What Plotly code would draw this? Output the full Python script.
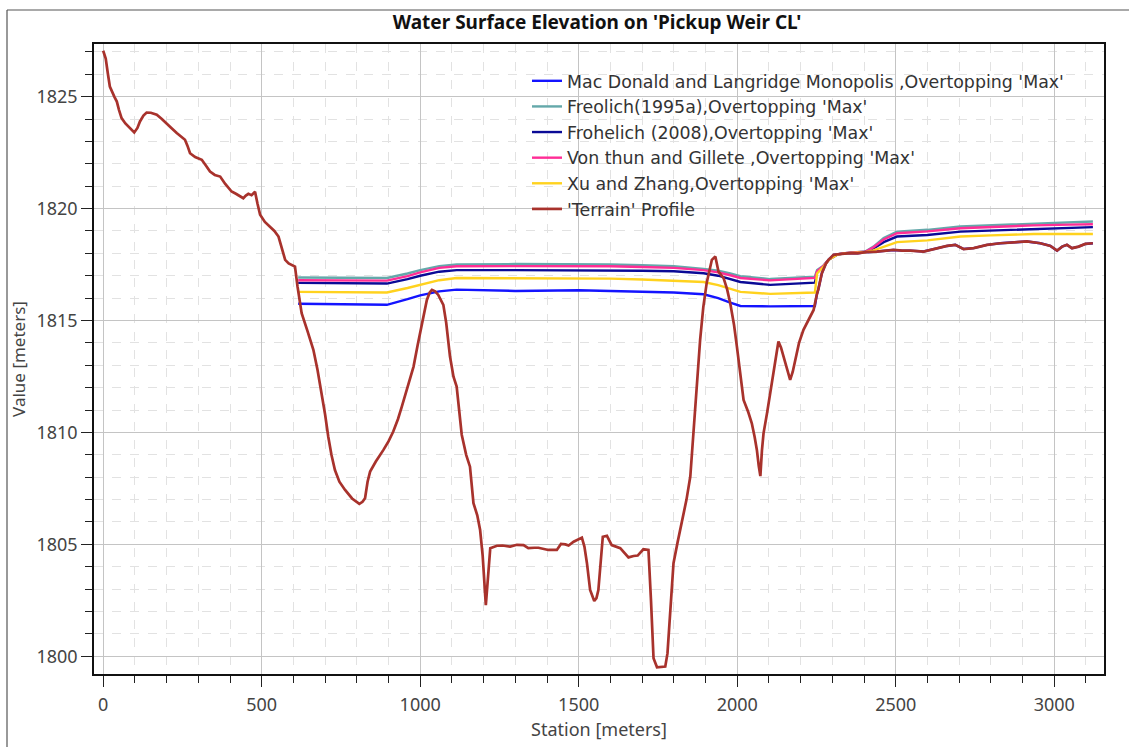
import plotly.graph_objects as go

# Terrain profile along the weir centreline
terrain_station = [
    0, 8, 15, 21, 35, 43, 50, 58, 70, 79, 90, 98, 108, 116, 127, 137, 150, 169, 185, 200,
    215, 232, 245, 258, 266, 274, 290, 311, 325, 337, 352, 369, 385, 405, 420, 442, 450, 458,
    468, 479, 487, 495, 510, 526, 540, 553, 563, 574, 585, 595, 605, 613, 626, 645, 663, 676,
    689, 700, 710, 720, 731, 745, 763, 785, 808, 818, 826, 834, 842, 860, 884, 900, 915, 930,
    942, 960, 979, 992, 1005, 1013, 1021, 1030, 1037, 1047, 1057, 1073, 1082, 1094, 1105, 1115,
    1125, 1131, 1145, 1157, 1168, 1180, 1189, 1197, 1207, 1214, 1221, 1242, 1260, 1284, 1305,
    1326, 1341, 1360, 1373, 1404, 1431, 1444, 1458, 1468, 1484, 1510, 1518, 1526, 1536, 1549,
    1556, 1562, 1570, 1576, 1589, 1604, 1631, 1645, 1657, 1673, 1686, 1704, 1720, 1728, 1736,
    1747, 1773, 1780, 1789, 1799, 1812, 1825, 1840, 1852, 1862, 1873, 1883, 1893, 1904, 1912,
    1920, 1931, 1941, 1957, 1968, 1978, 1990, 1999, 2010, 2020, 2035, 2046, 2055, 2062, 2068,
    2073, 2078, 2083, 2094, 2105, 2115, 2123, 2130, 2138, 2146, 2157, 2167, 2175, 2183, 2195,
    2209, 2225, 2241, 2251, 2256, 2267, 2280, 2288, 2304, 2330, 2357, 2380, 2404, 2441, 2493,
    2520, 2546, 2588, 2620, 2662, 2688, 2714, 2746, 2788, 2830, 2872, 2914, 2956, 2988, 3009,
    3025, 3040, 3056, 3077, 3098, 3122,
]
terrain_elev = [
    1827.05, 1826.70, 1826.00, 1825.45, 1825.00, 1824.78, 1824.40, 1824.04, 1823.80, 1823.66,
    1823.50, 1823.40, 1823.60, 1823.89, 1824.15, 1824.29, 1824.28, 1824.19, 1824.00, 1823.82,
    1823.60, 1823.37, 1823.20, 1823.07, 1822.80, 1822.47, 1822.30, 1822.18, 1821.90, 1821.65,
    1821.50, 1821.43, 1821.10, 1820.76, 1820.65, 1820.46, 1820.58, 1820.66, 1820.60, 1820.75,
    1820.20, 1819.72, 1819.40, 1819.20, 1819.00, 1818.75, 1818.30, 1817.71, 1817.55, 1817.48,
    1817.41, 1816.52, 1815.33, 1814.50, 1813.69, 1812.80, 1811.75, 1810.80, 1809.81, 1809.00,
    1808.32, 1807.80, 1807.43, 1807.05, 1806.81, 1806.90, 1807.06, 1807.80, 1808.25, 1808.70,
    1809.22, 1809.60, 1810.04, 1810.60, 1811.15, 1812.00, 1812.94, 1813.90, 1814.88, 1815.45,
    1815.92, 1816.25, 1816.37, 1816.30, 1816.14, 1815.70, 1814.90, 1813.39, 1812.49, 1812.05,
    1810.80, 1809.90, 1809.00, 1808.47, 1806.84, 1806.30, 1805.64, 1804.50, 1802.29, 1803.50,
    1804.83, 1804.94, 1804.95, 1804.90, 1804.98, 1804.97, 1804.83, 1804.85, 1804.85, 1804.75,
    1804.75, 1805.02, 1805.00, 1804.95, 1805.12, 1805.30, 1804.90, 1804.16, 1802.96, 1802.47,
    1802.60, 1802.96, 1804.50, 1805.34, 1805.38, 1804.97, 1804.83, 1804.60, 1804.42, 1804.48,
    1804.50, 1804.78, 1804.75, 1802.50, 1799.91, 1799.51, 1799.54, 1800.13, 1801.92, 1804.16,
    1805.10, 1805.94, 1807.00, 1808.03, 1810.11, 1812.35, 1814.13, 1815.60, 1816.70, 1817.20,
    1817.71, 1817.86, 1817.18, 1816.89, 1816.40, 1815.77, 1814.80, 1813.83, 1812.60, 1811.45,
    1810.90, 1810.41, 1809.80, 1809.22, 1808.50, 1808.05, 1809.20, 1809.96, 1810.86, 1811.80,
    1812.65, 1813.40, 1814.06, 1813.80, 1813.39, 1812.80, 1812.35, 1812.70, 1813.24, 1814.00,
    1814.58, 1815.00, 1815.47, 1816.15, 1816.40, 1817.11, 1817.55, 1817.71, 1817.93, 1817.98,
    1818.01, 1818.00, 1818.05, 1818.08, 1818.15, 1818.12, 1818.12, 1818.08, 1818.20, 1818.33,
    1818.38, 1818.19, 1818.23, 1818.38, 1818.45, 1818.48, 1818.53, 1818.45, 1818.33, 1818.12,
    1818.30, 1818.38, 1818.23, 1818.30, 1818.42, 1818.45,
]

# Maximum water surface for each breach-parameter method
ws_station = [
    615, 895, 960, 1000, 1060, 1115, 1300, 1400, 1500, 1600, 1700, 1800, 1894, 1940, 1978,
    2010, 2104, 2245, 2252, 2272, 2290, 2315, 2346, 2404, 2430, 2462, 2504, 2600, 2704, 2800,
    2935, 3050, 3122,
]
ws_froelich_1995a = [
    1816.92, 1816.90, 1817.10, 1817.25, 1817.43, 1817.50, 1817.52, 1817.52, 1817.52, 1817.50,
    1817.47, 1817.42, 1817.30, 1817.22, 1817.10, 1816.98, 1816.85, 1816.96, 1817.26, 1817.45,
    1817.75, 1817.95, 1818.02, 1818.08, 1818.30, 1818.68, 1818.97, 1819.05, 1819.20, 1819.25,
    1819.35, 1819.40, 1819.42,
]
ws_froehlich_2008 = [
    1816.68, 1816.65, 1816.85, 1817.00, 1817.18, 1817.25, 1817.25, 1817.25, 1817.25, 1817.24,
    1817.22, 1817.20, 1817.11, 1817.00, 1816.85, 1816.72, 1816.59, 1816.69, 1817.15, 1817.42,
    1817.73, 1817.94, 1818.01, 1818.06, 1818.22, 1818.50, 1818.75, 1818.82, 1818.97, 1819.02,
    1819.08, 1819.14, 1819.17,
]
ws_von_thun = [
    1816.80, 1816.78, 1816.98, 1817.15, 1817.35, 1817.42, 1817.43, 1817.43, 1817.43, 1817.42,
    1817.39, 1817.35, 1817.25, 1817.15, 1817.02, 1816.90, 1816.79, 1816.90, 1817.20, 1817.44,
    1817.74, 1817.95, 1818.02, 1818.07, 1818.27, 1818.62, 1818.90, 1818.98, 1819.12, 1819.18,
    1819.25, 1819.28, 1819.30,
]
ws_xu_zhang = [
    1816.28, 1816.25, 1816.45, 1816.60, 1816.80, 1816.90, 1816.90, 1816.90, 1816.89, 1816.87,
    1816.83, 1816.78, 1816.72, 1816.58, 1816.40, 1816.28, 1816.19, 1816.25, 1817.10, 1817.40,
    1817.72, 1817.94, 1818.01, 1818.05, 1818.13, 1818.30, 1818.50, 1818.58, 1818.75, 1818.80,
    1818.86, 1818.86, 1818.86,
]

# Mac Donald & Langridge-Monopolis: lowest surface; east of the step it sits on the ground
md_station = [
    615, 895, 960, 1000, 1060, 1115, 1300, 1400, 1500, 1600, 1700, 1800, 1894, 1940, 1978,
    2010, 2104, 2245, 2251, 2256, 2267, 2280, 2288, 2304, 2330, 2357, 2380, 2404, 2441, 2493,
    2520, 2546, 2588, 2620, 2662, 2688, 2714, 2746, 2788, 2830, 2872, 2914, 2956, 2988, 3009,
    3025, 3040, 3056, 3077, 3098, 3122,
]
ws_macdonald = [
    1815.75, 1815.70, 1815.95, 1816.12, 1816.30, 1816.38, 1816.32, 1816.33, 1816.35, 1816.32,
    1816.30, 1816.25, 1816.17, 1816.00, 1815.80, 1815.65, 1815.63, 1815.65, 1816.15, 1816.40,
    1817.11, 1817.55, 1817.71, 1817.93, 1817.98, 1818.01, 1818.00, 1818.05, 1818.08, 1818.15,
    1818.12, 1818.12, 1818.08, 1818.20, 1818.33, 1818.38, 1818.19, 1818.23, 1818.38, 1818.45,
    1818.48, 1818.53, 1818.45, 1818.33, 1818.12, 1818.30, 1818.38, 1818.23, 1818.30, 1818.42,
    1818.45,
]

series = [
    ("Mac Donald and Langridge Monopolis ,Overtopping 'Max'", md_station, ws_macdonald, "#1414ff"),
    ("Freolich(1995a),Overtopping 'Max'", ws_station, ws_froelich_1995a, "#64a8aa"),
    ("Frohelich (2008),Overtopping 'Max'", ws_station, ws_froehlich_2008, "#0a0a96"),
    ("Von thun and Gillete ,Overtopping 'Max'", ws_station, ws_von_thun, "#ff2d96"),
    ("Xu and Zhang,Overtopping 'Max'", ws_station, ws_xu_zhang, "#ffd21e"),
    ("'Terrain' Profile", terrain_station, terrain_elev, "#a8322c"),
]

FONT = "Noto Sans"
LEGEND_FONT = "DejaVu Sans"

fig = go.Figure()
for name, xs, ys, color in series:
    fig.add_trace(go.Scatter(
        x=xs, y=ys, name=name, mode="lines",
        line=dict(color=color, width=2.7 if "Terrain" in name else 2.4),
    ))

axis_common = dict(
    showline=True, mirror=True, linecolor="#111111", linewidth=1.6,
    ticks="outside", ticklen=11, tickwidth=1.2, tickcolor="#222222",
    showgrid=True, gridcolor="#c4c4c4", gridwidth=1,
    zeroline=False, automargin=False,
    tickfont=dict(family=FONT, size=18, color="#444444"),
)

fig.update_xaxes(
    range=[-29, 3157], tick0=0, dtick=500, ticklabelstandoff=3,
    minor=dict(dtick=100, ticks="outside", ticklen=7, tickcolor="#222222",
               showgrid=True, gridcolor="#e2e2e2", griddash="dash"),
    title=dict(text="Station [meters]", font=dict(family=FONT, size=18, color="#444444"),
               standoff=8),
    **axis_common,
)
fig.update_yaxes(
    range=[1799.21, 1827.35], tick0=1800, dtick=5,
    minor=dict(dtick=1, ticks="outside", ticklen=7, tickcolor="#222222",
               showgrid=True, gridcolor="#e2e2e2", griddash="dash"),
    title=dict(text="Value [meters]", font=dict(family=FONT, size=17, color="#444444"),
               standoff=6),
    **axis_common,
)

W, H = 1129, 747
L, R, T, B = 94, 25, 44, 73
pw, ph = W - L - R, H - T - B


def px_x(p):
    return (p - L) / pw


def px_y(p):
    return (H - B - p) / ph


fig.update_layout(
    width=W, height=H,
    margin=dict(l=L, r=R, t=T, b=B, pad=0, autoexpand=False),
    paper_bgcolor="white", plot_bgcolor="white",
    title=dict(text="Water Surface Elevation on 'Pickup Weir CL'",
               x=597 / W, xref="container", xanchor="center",
               y=1 - 22 / H, yref="container", yanchor="middle",
               font=dict(family=FONT, size=19, color="#111111", weight="bold")),
    legend=dict(x=px_x(527), y=px_y(63), xanchor="left", yanchor="top",
                bgcolor="rgba(0,0,0,0)", borderwidth=0,
                font=dict(family=LEGEND_FONT, size=17.4, color="#333333"),
                tracegroupgap=0),
    showlegend=True,
    shapes=[
        dict(type="line", xref="paper", yref="paper",
             x0=px_x(7), x1=px_x(7), y0=px_y(10), y1=px_y(H + 5),
             line=dict(color="#555555", width=1.2)),
        dict(type="line", xref="paper", yref="paper",
             x0=px_x(7), x1=px_x(W + 5), y0=px_y(10), y1=px_y(10),
             line=dict(color="#555555", width=1.2)),
    ],
)

fig.write_html("out.html")
